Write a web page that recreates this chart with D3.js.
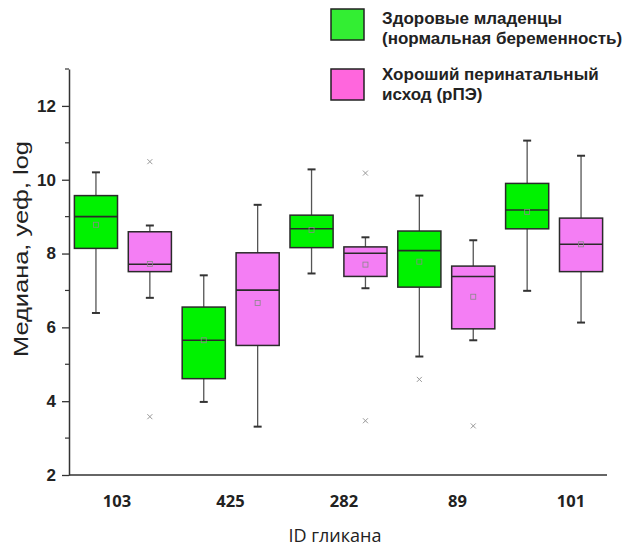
<!DOCTYPE html>
<html>
<head>
<meta charset="utf-8">
<script src="https://cdn.jsdelivr.net/npm/d3@7"></script>
<style>
body { margin: 0; background: #fff; }
svg { display: block; }
</style>
</head>
<body>
<svg id="chart"></svg>
<script>
var glycans = ["103", "425", "282", "89", "101"]
var groups = ["Здоровые младенцы (нормальная беременность)", "Хороший перинатальный исход (рПЭ)"]

// healthy infants
var healthyLow = [6.39, 3.98, 7.46, 5.21, 6.99]
var healthyQ1 = [8.14, 4.61, 8.16, 7.09, 8.67]
var healthyMedian = [9.00, 5.65, 8.67, 8.08, 9.18]
var healthyQ3 = [9.57, 6.55, 9.04, 8.61, 9.90]
var healthyHigh = [10.20, 7.41, 10.28, 9.57, 11.06]
var healthyMean = [8.78, 5.65, 8.64, 7.78, 9.13]
var healthyOutliers = [[], [], [], [4.59], []]

// good outcome (rPE)
var goodLow = [6.80, 3.31, 7.06, 5.65, 6.13]
var goodQ1 = [7.51, 5.51, 7.38, 5.96, 7.51]
var goodMedian = [7.71, 7.01, 8.01, 7.38, 8.25]
var goodQ3 = [8.59, 8.02, 8.18, 7.66, 8.96]
var goodHigh = [8.76, 9.32, 8.44, 8.36, 10.65]
var goodMean = [7.72, 6.66, 7.70, 6.83, 8.25]
var goodOutliers = [[10.49, 3.58], [], [10.18, 3.47], [3.33], []]

var yTicks = [2, 4, 6, 8, 10, 12]
var yMinor = [3, 5, 7, 9, 11, 13]

var colors = ["#00f200", "#f47ef4"]
var legendColors = ["#33ee33", "#ff66dd"]

var width = 632, height = 546

var svg = d3.select("#chart")
    .attr("width", width)
    .attr("height", height)

var x0 = d3.scaleBand()
    .domain(glycans)
    .range([69, 608])

var x1 = d3.scaleBand()
    .domain([0, 1])
    .range([0, x0.bandwidth()])
    .paddingInner(0.2)
    .paddingOuter(0.1)

// the category labels are spaced a bit wider than the box pairs in the original
var xLabel = d3.scalePoint()
    .domain(glycans)
    .range([117, 571])

var y = d3.scaleLinear()
    .domain([2, 13])
    .range([475, 69])

// y axis
var yAxis = svg.append("g")
    .attr("transform", "translate(69,0)")
    .call(d3.axisLeft(y).tickValues(yTicks).tickSize(7).tickPadding(6).tickSizeOuter(0))
yAxis.select(".domain").attr("stroke", "#333").attr("stroke-width", 1.5)
yAxis.selectAll(".tick line").attr("stroke", "#333").attr("stroke-width", 1.3)
yAxis.selectAll(".tick text")
    .attr("font-family", "Liberation Sans, Arial, sans-serif")
    .attr("font-size", 17)
    .attr("font-weight", "bold")
    .attr("fill", "#222")

svg.append("g")
    .selectAll("line")
    .data(yMinor)
    .join("line")
    .attr("x1", 65)
    .attr("x2", 69)
    .attr("y1", d => y(d))
    .attr("y2", d => y(d))
    .attr("stroke", "#333")
    .attr("stroke-width", 1.2)

// bottom axis line
svg.append("line")
    .attr("x1", 69)
    .attr("x2", 607)
    .attr("y1", y(2))
    .attr("y2", y(2))
    .attr("stroke", "#333")
    .attr("stroke-width", 1.5)

svg.append("g")
    .selectAll("text")
    .data(glycans)
    .join("text")
    .attr("x", d => xLabel(d))
    .attr("y", 507)
    .attr("text-anchor", "middle")
    .attr("font-family", "Open Sans, Liberation Sans, sans-serif")
    .attr("font-size", 16.5)
    .attr("font-weight", "bold")
    .attr("fill", "#222")
    .text(d => d)

svg.append("text")
    .attr("x", 335)
    .attr("y", 542)
    .attr("text-anchor", "middle")
    .attr("font-family", "Open Sans, Liberation Sans, sans-serif")
    .attr("font-size", 18)
    .attr("fill", "#222")
    .text("ID гликана")

svg.append("text")
    .attr("transform", "translate(28,249) rotate(-90)")
    .attr("text-anchor", "middle")
    .attr("font-family", "Liberation Sans, Arial, sans-serif")
    .attr("font-size", 19.5)
    .attr("textLength", 216)
    .attr("lengthAdjust", "spacingAndGlyphs")
    .attr("fill", "#222")
    .text("Медиана, уеф, log")

// boxes
var series = [
    {low: healthyLow, q1: healthyQ1, med: healthyMedian, q3: healthyQ3, high: healthyHigh, mean: healthyMean, out: healthyOutliers},
    {low: goodLow, q1: goodQ1, med: goodMedian, q3: goodQ3, high: goodHigh, mean: goodMean, out: goodOutliers}
]

var bw = x1.bandwidth()

series.forEach(function(s, si) {
    glycans.forEach(function(g, i) {
        var cx = x0(g) + x1(si) + bw / 2
        var box = svg.append("g")

        // whiskers
        box.selectAll(".whisker")
            .data([[s.high[i], s.q3[i]], [s.q1[i], s.low[i]]])
            .join("line")
            .attr("class", "whisker")
            .attr("x1", cx).attr("x2", cx)
            .attr("y1", d => y(d[0]))
            .attr("y2", d => y(d[1]))
            .attr("stroke", "#555").attr("stroke-width", 1.3)
        box.selectAll(".cap")
            .data([s.high[i], s.low[i]])
            .join("line")
            .attr("class", "cap")
            .attr("x1", cx - 4).attr("x2", cx + 4)
            .attr("y1", d => y(d)).attr("y2", d => y(d))
            .attr("stroke", "#333").attr("stroke-width", 2)

        box.append("rect")
            .attr("x", cx - bw / 2)
            .attr("width", bw)
            .attr("y", y(s.q3[i]))
            .attr("height", y(s.q1[i]) - y(s.q3[i]))
            .attr("fill", colors[si])
            .attr("stroke", "#2a2a2a")
            .attr("stroke-width", 1.5)

        box.append("line")
            .attr("x1", cx - bw / 2).attr("x2", cx + bw / 2)
            .attr("y1", y(s.med[i])).attr("y2", y(s.med[i]))
            .attr("stroke", "#2a2a2a").attr("stroke-width", 1.6)

        box.append("rect")
            .attr("x", cx - 2.5).attr("y", y(s.mean[i]) - 2.5)
            .attr("width", 5).attr("height", 5)
            .attr("fill", "none")
            .attr("stroke", "#888").attr("stroke-width", 0.8)

        box.selectAll(".out")
            .data(s.out[i])
            .join("path")
            .attr("class", "out")
            .attr("d", d => "M" + (cx - 2.5) + "," + (y(d) - 2.5) + "l5,5M" + (cx + 2.5) + "," + (y(d) - 2.5) + "l-5,5")
            .attr("stroke", "#999").attr("stroke-width", 1)
    })
})

// legend
var legendLines = [["Здоровые младенцы", "(нормальная беременность)"], ["Хороший перинатальный", "исход (рПЭ)"]]
var legend = svg.append("g")
    .selectAll("g")
    .data(groups)
    .join("g")

legend.append("rect")
    .attr("x", 331)
    .attr("y", (d, i) => 9 + i * 60)
    .attr("width", 33).attr("height", 31)
    .attr("fill", (d, i) => legendColors[i])
    .attr("stroke", "#222").attr("stroke-width", 1.5)

legend.each(function(d, i) {
    d3.select(this).selectAll("text")
        .data(legendLines[i])
        .join("text")
        .attr("x", 382)
        .attr("y", (t, j) => 24 + i * 56 + j * 20)
        .attr("font-family", "Liberation Sans, Arial, sans-serif")
        .attr("font-size", 17)
        .attr("font-weight", "bold")
        .attr("fill", "#222")
        .text(t => t)
})
</script>
</body>
</html>
